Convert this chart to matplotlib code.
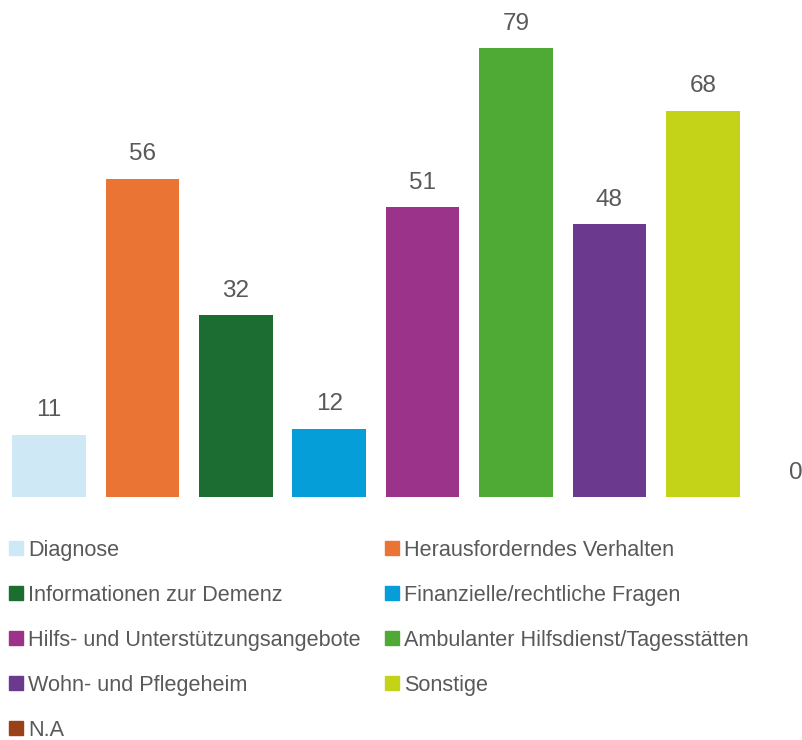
import matplotlib
matplotlib.use("Agg")
import matplotlib.pyplot as plt
from matplotlib.patches import Rectangle

categories = ["Diagnose", "Herausforderndes Verhalten", "Informationen zur Demenz",
              "Finanzielle/rechtliche Fragen", "Hilfs- und Unterstützungsangebote",
              "Ambulanter Hilfsdienst/Tagesstätten", "Wohn- und Pflegeheim",
              "Sonstige", "N.A"]
values = [11, 56, 32, 12, 51, 79, 48, 68, 0]
colors = ["#CFE8F6", "#EA7433", "#1C6D31", "#069ED8", "#9B338B",
          "#4FA935", "#6B3A8F", "#C5D318", "#9B4118"]

plt.rcParams['font.family'] = ['Liberation Sans', 'DejaVu Sans']
TXT = "#595959"

W, H = 803, 740
fig = plt.figure(figsize=(W / 100, H / 100), dpi=100)

# axes geometry in pixels
base_y = 497
ppu = 5.68
ymax = 85
left_px = 2.3
pitch = 93.4
xs = list(range(len(values)))
ax = fig.add_axes([left_px / W, (H - base_y) / H, (pitch * len(values)) / W, ymax * ppu / H])
ax.set_xlim(-0.5, len(values) - 0.5)
ax.set_ylim(0, ymax)
ax.bar(xs, values, width=0.79, color=colors)
for x, v in zip(xs, values):
    ax.annotate(str(v), (x, v), xytext=(0, 13.3), textcoords="offset points",
                ha="center", va="baseline", fontsize=17.5, color=TXT)
ax.axis("off")

# legend (two columns, row-major)
sq = 14
for i, (lab, c) in enumerate(zip(categories, colors)):
    col, row = i % 2, i // 2
    x0 = 9 + col * 376
    yc = 548 + row * 45
    fig.patches.append(Rectangle((x0 / W, (H - yc - sq / 2) / H), sq / W, sq / H,
                                 transform=fig.transFigure, color=c))
    fig.text((x0 + sq + 5) / W, (H - yc) / H, lab, ha="left", va="center_baseline",
             fontsize=15.6, color=TXT)

fig.savefig("out.png", dpi=100)
